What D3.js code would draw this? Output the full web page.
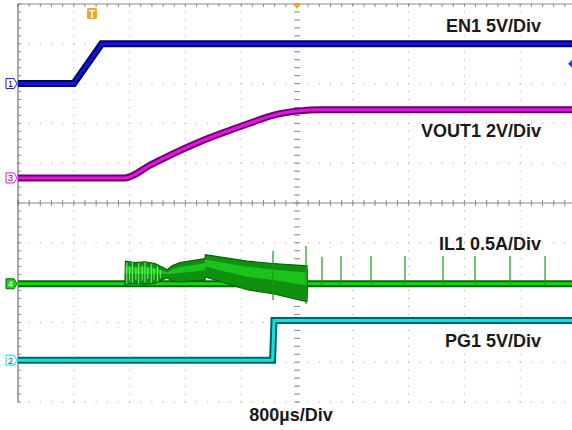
<!DOCTYPE html>
<html>
<head>
<meta charset="utf-8">
<script src="https://cdn.jsdelivr.net/npm/d3@7"></script>
<style>
  body { margin: 0; background: #fff; }
  .lbl { font-family: "Liberation Sans", Arial, sans-serif; font-weight: bold; font-size: 18px; fill: #1a1a1a; }
</style>
</head>
<body>
<div id="chart"></div>
<script>
// time in us, 800us/div, trigger at 0
const en1T = [-4000, -3200, -2800, 4000];
const en1V = [0, 0, 5, 5];

const vout1T = [-4000, -2470, -2100, -1750, -1400, -1030, -670, -320, 40, 330, 4000];
const vout1V = [0, 0, 0.65, 1.26, 1.81, 2.31, 2.76, 3.17, 3.37, 3.42, 3.42];

// inductor current: baseline, switching envelope, spikes
const il1T = [-4000, -2466, 150, 4000];
const il1A = [0, 0, 0, 0];
const il1EnvT = [-2466, -2460, -2323, -2179, -2036, -1921, -1864, -1792, -1677, -1319, -1315, -717, -344, 143, 150];
const il1Hi = [0, 0.26, 0.24, 0.25, 0.23, 0.18, 0.15, 0.20, 0.24, 0.29, 0.34, 0.26, 0.23, 0.20, 0];
const il1Lo = [0, 0.02, 0.03, 0.02, 0.03, 0.08, 0.10, 0.06, 0.05, 0.07, 0.11, -0.05, -0.10, -0.20, 0];
const il1RippleT = [-2440, -2400, -2360, -2310, -2270, -2220, -2180, -2140, -2090, -2050, -2000, -1960];
const il1RippleHi = [0.27, 0.22, 0.28, 0.21, 0.26, 0.23, 0.27, 0.20, 0.25, 0.19, 0.22, 0.17];
const il1RippleLo = [0.00, 0.04, 0.01, 0.05, 0.00, 0.04, 0.02, 0.06, 0.01, 0.05, 0.03, 0.07];
const il1SpikeT = [-344, 129, 358, 631, 1061, 1548, 2093, 2552, 3054, 3556];
const il1SpikeHi = [0.415, 0.477, 0.34, 0.35, 0.35, 0.35, 0.35, 0.35, 0.35, 0.35];
const il1SpikeLo = [-0.18, -0.23, 0, 0, 0, 0, 0, 0, 0, 0];

const pg1T = [-4000, -350, -330, 4000];
const pg1V = [0, 0, 5, 5];

// channel settings: units per div, offset in div
const channels = [
    { id: "1", label: "EN1 5V/Div", perDiv: 5, pos: 3, dark: "#00006e", light: "#1414d8", labelY: 32, badge: "outline" },
    { id: "3", label: "VOUT1 2V/Div", perDiv: 2, pos: 0.63, dark: "#700070", light: "#e414e4", labelY: 137, badge: "outline" },
    { id: "4", label: "IL1 0.5A/Div", perDiv: 0.5, pos: -2.03, dark: "#007000", light: "#18d418", labelY: 250, badge: "fill" },
    { id: "2", label: "PG1 5V/Div", perDiv: 5, pos: -3.95, dark: "#006464", light: "#14e0e0", labelY: 347, badge: "outline" }
];

const width = 572, height = 430;
const svg = d3.select("#chart").append("svg")
    .attr("width", width)
    .attr("height", height);

const x = d3.scaleLinear().domain([-4000, 4000]).range([18, 576]);
const yDiv = d3.scaleLinear().domain([-5, 5]).range([402, 4]);

const majorT = d3.range(-4000, 4001, 800);
const minorT = d3.range(-4000, 4001, 160);
const majorD = d3.range(-5, 5.01, 1);
const minorD = d3.range(-5, 5.01, 0.2);

// dotted graticule
const grid = svg.append("g").attr("fill", "#a0a0a0");
majorT.forEach(t => {
    grid.selectAll(null).data(minorD).enter().append("rect")
        .attr("x", x(t) - 0.5).attr("y", d => yDiv(d) - 0.5)
        .attr("width", 1).attr("height", 1);
});
majorD.forEach(dv => {
    grid.selectAll(null).data(minorT).enter().append("rect")
        .attr("x", d => x(d) - 0.5).attr("y", yDiv(dv) - 0.5)
        .attr("width", 1).attr("height", 1);
});

// center lines with ticks
const axes = svg.append("g").attr("stroke", "#8a8a8a").attr("stroke-width", 1);
axes.append("line")
    .attr("x1", x(-4000)).attr("x2", x(4000))
    .attr("y1", yDiv(0)).attr("y2", yDiv(0));
axes.selectAll(".hx").data(minorT).enter().append("line")
    .attr("x1", d => x(d)).attr("x2", d => x(d))
    .attr("y1", yDiv(0) - 3).attr("y2", yDiv(0) + 3);
axes.selectAll(".vy").data(minorD).enter().append("line")
    .attr("x1", x(0) - 3).attr("x2", x(0) + 3)
    .attr("y1", d => yDiv(d)).attr("y2", d => yDiv(d));
// frame: top and left solid with ticks
axes.append("line")
    .attr("x1", x(-4000)).attr("x2", x(4000))
    .attr("y1", yDiv(5)).attr("y2", yDiv(5));
axes.selectAll(".tx").data(minorT).enter().append("line")
    .attr("x1", d => x(d)).attr("x2", d => x(d))
    .attr("y1", yDiv(5)).attr("y2", yDiv(5) + 3);
axes.append("line")
    .attr("x1", x(-4000)).attr("x2", x(-4000))
    .attr("y1", yDiv(5)).attr("y2", yDiv(-5))
    .attr("stroke", "#555");
axes.selectAll(".ly").data(minorD).enter().append("line")
    .attr("x1", x(-4000)).attr("x2", x(-4000) + 3)
    .attr("y1", d => yDiv(d)).attr("y2", d => yDiv(d));

function yOf(ch, v) { return yDiv(ch.pos + v / ch.perDiv); }

function drawTrace(ch, ts, vs, curve) {
    const pts = ts.map((t, i) => [t, vs[i]]);
    const line = d3.line()
        .x(d => x(d[0]))
        .y(d => yOf(ch, d[1]))
        .curve(curve || d3.curveLinear);
    svg.append("path").attr("d", line(pts))
        .attr("fill", "none").attr("stroke", ch.dark).attr("stroke-width", 7);
    svg.append("path").attr("d", line(pts))
        .attr("fill", "none").attr("stroke", ch.light).attr("stroke-width", 3);
}

const [chEN, chVO, chIL, chPG] = channels;

drawTrace(chEN, en1T, en1V);
drawTrace(chVO, vout1T, vout1V, d3.curveMonotoneX);

// IL1 baseline
drawTrace(chIL, il1T, il1A);
// switching envelope
const env = il1EnvT.map((t, i) => ({ t: t, hi: il1Hi[i], lo: il1Lo[i] }));
svg.append("path")
    .datum(env)
    .attr("d", d3.area()
        .x(d => x(d.t))
        .y0(d => yOf(chIL, d.lo) + 2)
        .y1(d => yOf(chIL, d.hi) - 2))
    .attr("fill", "#0f900f")
    .attr("stroke", "#006400")
    .attr("stroke-width", 1.2);
svg.append("path")
    .datum(env)
    .attr("d", d3.area()
        .x(d => x(d.t))
        .y0(d => yOf(chIL, d.lo + (d.hi - d.lo) * 0.45))
        .y1(d => yOf(chIL, d.hi - (d.hi - d.lo) * 0.15)))
    .attr("fill", "#1cc21c");
svg.selectAll(".rip").data(il1RippleT).enter().append("line")
    .attr("x1", d => x(d)).attr("x2", d => x(d))
    .attr("y1", (d, i) => yOf(chIL, il1RippleHi[i]))
    .attr("y2", (d, i) => yOf(chIL, il1RippleLo[i]))
    .attr("stroke", "#7af07a").attr("stroke-width", 1);
svg.selectAll(".spk").data(il1SpikeT).enter().append("line")
    .attr("x1", d => x(d)).attr("x2", d => x(d))
    .attr("y1", (d, i) => yOf(chIL, il1SpikeHi[i]))
    .attr("y2", (d, i) => yOf(chIL, il1SpikeLo[i]) + 2)
    .attr("stroke", "#1a9a1a").attr("stroke-width", 1.2);

drawTrace(chPG, pg1T, pg1V);

// channel badges on the left
channels.forEach(ch => {
    const y0 = yOf(ch, 0);
    const g = svg.append("g").attr("transform", `translate(0,${y0})`);
    g.append("path")
        .attr("d", "M6,-5 H14 L17,0 L14,5 H6 Z")
        .attr("fill", ch.badge === "fill" ? ch.light : "#fff")
        .attr("stroke", ch.badge === "fill" ? ch.dark : ch.light)
        .attr("stroke-width", 1);
    g.append("text")
        .attr("x", 10.5).attr("y", 3.5)
        .attr("text-anchor", "middle")
        .attr("font-family", "Liberation Sans, Arial, sans-serif")
        .attr("font-size", 9)
        .attr("fill", ch.badge === "fill" ? "#fff" : ch.dark)
        .text(ch.id);
    svg.append("text").attr("class", "lbl")
        .attr("x", 541).attr("y", ch.labelY)
        .attr("text-anchor", "end")
        .text(ch.label);
});

// EN1 reference marker at right edge
svg.append("path")
    .attr("d", `M${width},${yDiv(3.5) - 4} L${width - 4},${yDiv(3.5)} L${width},${yDiv(3.5) + 4} Z`)
    .attr("fill", "#2040ff");

// trigger markers
const trig = svg.append("g");
trig.append("rect")
    .attr("x", x(-2940) - 5).attr("y", 8).attr("width", 10).attr("height", 11)
    .attr("rx", 1.5).attr("fill", "#f5a623");
trig.append("text")
    .attr("x", x(-2940)).attr("y", 17.5)
    .attr("text-anchor", "middle")
    .attr("font-family", "Liberation Sans, Arial, sans-serif")
    .attr("font-size", 10).attr("font-weight", "bold")
    .attr("fill", "#fff").text("T");
trig.append("path")
    .attr("d", `M${x(0) - 4},${yDiv(5)} L${x(0) + 4},${yDiv(5)} L${x(0)},${yDiv(5) + 5} Z`)
    .attr("fill", "#f5a623");

// time base label
svg.append("text").attr("class", "lbl")
    .attr("x", x(0) - 6).attr("y", 421)
    .attr("text-anchor", "middle")
    .text("800\u00b5s/Div");
</script>
</body>
</html>
